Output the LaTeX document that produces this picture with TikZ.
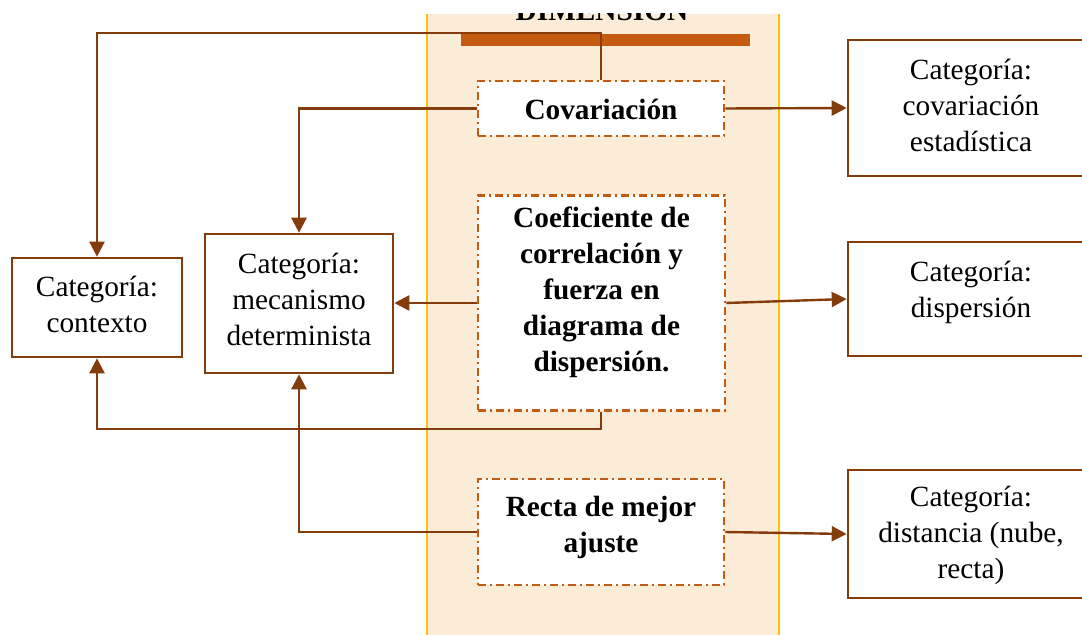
\documentclass[tikz,border=0pt]{standalone}
\usepackage{fontspec}
\setmainfont{Liberation Serif}
\usetikzlibrary{arrows.meta}
\definecolor{brn}{HTML}{843C0C}
\definecolor{org}{HTML}{C55A11}
\definecolor{panelfill}{HTML}{FAECD6}
\definecolor{panelline}{HTML}{FFC000}
\begin{document}
\begin{tikzpicture}[x=0.5pt,y=-0.5pt,
 txt/.style={font=\fontsize{14.65pt}{18pt}\selectfont, align=center, inner sep=0pt},
 btxt/.style={font=\fontsize{14.65pt}{18pt}\selectfont\bfseries, align=center, inner sep=0pt},
 catbox/.style={draw=brn, line width=1.3pt, fill=white, inner sep=0pt},
 dimbox/.style={draw=org, line width=1.3pt, fill=white, inner sep=0pt, dash pattern=on 4pt off 2pt on 1pt off 2pt},
 conn/.style={draw=brn, line width=1.2pt, -{Triangle[length=7.5pt,width=7.5pt]}}]
\useasboundingbox (0,0) rectangle (1082,635);
\clip (0,0) rectangle (1082,635);
% panel
\fill[panelfill] (427,14) rectangle (779,640);
\draw[panelline, line width=0.6pt] (427,640) -- (427,14);
\draw[panelline, line width=0.6pt] (779,14) -- (779,640);
\begin{scope}
\clip (427,14) rectangle (779,640);
\node[btxt, anchor=base] (dimT) at (602,21) {DIMENSIÓN};
\end{scope}
\fill[org] (461,34) rectangle (750,46);
% dimension boxes
\node[dimbox, minimum width=123pt, minimum height=27.5pt] (cov) at (601,108.5) {};
\node[btxt] (covL) at (601,109) {Covariación};
\node[dimbox, minimum width=123.5pt, minimum height=107.5pt] (coef) at (601.5,303) {};
\node[btxt] (coefL) at (601.5,292) {Coeficiente de\\correlación y\\fuerza en\\diagrama de\\dispersión.};
\node[dimbox, minimum width=123pt, minimum height=53pt] (rec) at (601,532) {};
\node[btxt] (recL) at (601,527) {Recta de mejor\\ajuste};
% category boxes
\node[catbox, minimum width=85pt, minimum height=49.5pt] (ctx) at (97,307.5) {};
\node[txt] (ctxL) at (97,304.5) {Categoría:\\contexto};
\node[catbox, minimum width=94pt, minimum height=69.5pt] (mec) at (299,303.5) {};
\node[txt] (mecL) at (299,299.5) {Categoría:\\mecanismo\\determinista};
\node[catbox, minimum width=123pt, minimum height=68pt] (r1) at (971,108) {};
\node[txt] (r1L) at (971,105) {Categoría:\\covariación\\estadística};
\node[catbox, minimum width=123pt, minimum height=57pt] (r2) at (971,299) {};
\node[txt] (r2L) at (971,292.7) {Categoría:\\dispersión};
\node[catbox, minimum width=123pt, minimum height=64pt] (r3) at (971,534) {};
\node[txt] (r3L) at (971,535) {Categoría:\\distancia (nube,\\recta)};
% connectors
\coordinate (t1) at (601,33);
\coordinate (b1) at (601,429);
\draw[conn] (cov.north) -- (cov.north |- t1) -| (ctx.north);
\draw[conn] (cov.west) -| (mec.north);
\draw[conn] (cov.east) -- (r1.west);
\draw[conn] (coef.west) -- (coef.west -| mec.east);
\draw[conn] (coef.east) -- (r2.west);
\draw[conn] (coef.south -| b1) -- (b1) -| (ctx.south);
\draw[conn] (rec.west) -| (mec.south);
\draw[conn] (rec.east) -- (r3.west);
\end{tikzpicture}
\end{document}
